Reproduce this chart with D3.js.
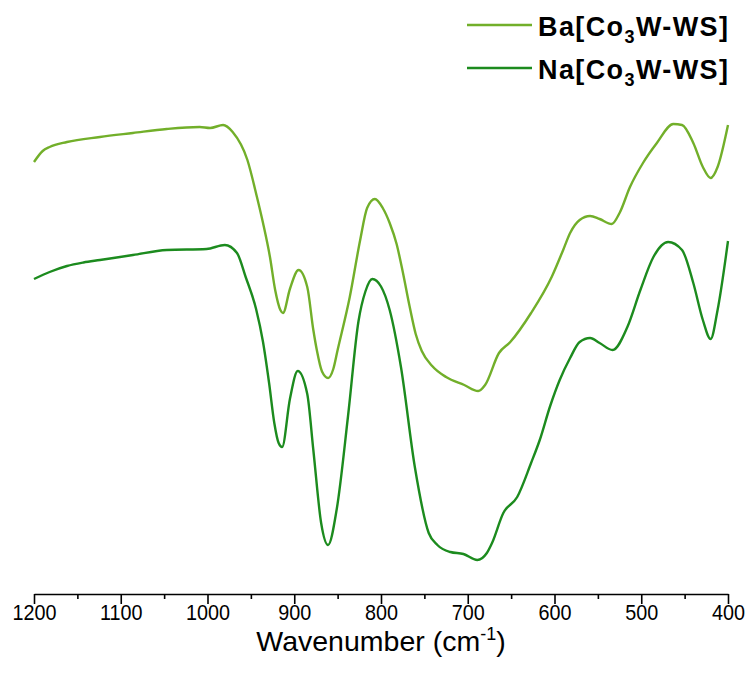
<!DOCTYPE html>
<html>
<head>
<meta charset="utf-8">
<script src="https://cdn.jsdelivr.net/npm/d3@7"></script>
<style>
  html, body { margin: 0; padding: 0; background: #fff; }
  svg { display: block; }
</style>
</head>
<body>
<svg id="chart" width="749" height="685"></svg>
<script>
// ---- data (wavenumber in cm^-1, transmittance in arbitrary units, offset as drawn) ----
const baWavenumber = [1200,1190,1182,1162,1124,1086,1047,1009,997,982,971,954,943,936,928,922,916,913,905,895,885,878,874,868,861,855,850,836,824,816,807,798,790,782,775,767,760,753,741,725,704,688,680,664,651,627,603,590,582,571,559,548,534,525,513,498,482,463,453,440,429,420,412,400];
const baValue      = [86.4,88.6,89.4,90.4,91.4,92.2,93.0,93.4,93.2,93.8,92.4,86.8,79.4,74.2,67.4,60.8,56.8,56.2,61.0,64.8,61.4,52.8,48.8,44.5,43.2,45.0,48.8,59.4,70.8,77.2,79.0,77.2,74.2,70.0,64.5,57.5,52.0,48.6,45.6,43.4,41.8,40.6,41.8,48.2,50.4,56.2,63.5,68.8,72.2,74.8,75.6,75.0,74.0,76.2,81.4,86.2,90.2,94.0,93.8,90.2,85.4,83.2,85.4,93.8];

const naWavenumber = [1200,1182,1162,1143,1124,1086,1047,1001,980,966,956,944,936,929,923,918,914,905,896,885,878,869,861,851,838,826,818,810,800,790,777,761,745,735,720,705,689,678,672,659,643,627,617,605,594,582,571,559,548,533,516,501,486,469,453,440,429,420,412,400];
const naValue      = [63.0,64.4,65.6,66.3,66.8,67.8,68.8,69.0,69.8,68.2,63.4,57.0,50.4,42.2,34.2,30.2,29.4,39.0,44.6,40.0,28.8,14.2,9.8,17.0,35.6,54.5,60.5,63.0,61.5,56.8,45.4,25.4,12.2,9.8,8.4,8.0,6.8,8.2,10.2,16.2,19.4,26.2,30.8,37.6,42.8,47.2,50.4,51.2,50.2,48.8,53.4,60.8,67.4,70.4,68.8,62.2,54.8,51.0,56.8,70.6];

const seriesNames  = ["Ba", "Na"];
const seriesColors = ["#72AF2A", "#1C8B1E"];
const xTicks = [1200,1100,1000,900,800,700,600,500,400];
const xMinorTicks = [1150,1050,950,850,750,650,550,450];
const xLabel = "Wavenumber (cm";

// ---- layout ----
const svg = d3.select("#chart");
const x = d3.scaleLinear().domain([1200, 400]).range([34, 728]);
const y = d3.scaleLinear().domain([0, 100]).range([594, 94]);

const series = [
  { name: seriesNames[0], color: seriesColors[0], data: baWavenumber.map((w, i) => ({ w, v: baValue[i] })) },
  { name: seriesNames[1], color: seriesColors[1], data: naWavenumber.map((w, i) => ({ w, v: naValue[i] })) }
];

const line = d3.line()
  .x(d => x(d.w))
  .y(d => y(d.v))
  .curve(d3.curveMonotoneX);

svg.append("g").selectAll("path")
  .data(series)
  .join("path")
  .attr("d", d => line(d.data))
  .attr("fill", "none")
  .attr("stroke", d => d.color)
  .attr("stroke-width", 2.4)
  .attr("stroke-linejoin", "round");

// ---- x axis ----
const axisG = svg.append("g").attr("transform", `translate(0,${594})`);
axisG.call(d3.axisBottom(x).tickValues(xTicks).tickSize(10).tickSizeOuter(0).tickPadding(0).tickFormat(d3.format("d")));
axisG.append("g").call(d3.axisBottom(x).tickValues(xMinorTicks).tickSize(5).tickFormat(""))
  .call(g => g.select(".domain").remove());
axisG.selectAll(".domain").attr("stroke", "#000").attr("stroke-width", 1.6);
axisG.selectAll(".tick line").attr("stroke", "#000").attr("stroke-width", 1.6);
axisG.selectAll(".tick text")
  .attr("font-family", "Liberation Sans, Arial, sans-serif")
  .attr("font-size", 22)
  .attr("fill", "#000")
  .attr("y", 26)
  .attr("dy", 0)
  .attr("transform", "scale(0.9,1)");

const title = svg.append("text")
  .attr("x", 381).attr("y", 651)
  .attr("text-anchor", "middle")
  .attr("font-family", "Liberation Sans, Arial, sans-serif")
  .attr("font-size", 28.5)
  .attr("fill", "#000");
title.append("tspan").text(xLabel);
title.append("tspan").attr("dy", -11).attr("font-size", 18).text("-1");
title.append("tspan").attr("dy", 11).text(")");

// ---- legend ----
const legendY = [25, 68];
const legend = svg.append("g");
series.forEach((s, i) => {
  legend.append("line")
    .attr("x1", 467).attr("x2", 532)
    .attr("y1", legendY[i]).attr("y2", legendY[i])
    .attr("stroke", s.color).attr("stroke-width", 2.4);
  const t = legend.append("text")
    .attr("x", 538).attr("y", legendY[i] + 11)
    .attr("font-family", "Liberation Sans, Arial, sans-serif")
    .attr("font-weight", "bold")
    .attr("font-size", 27)
    .attr("letter-spacing", 1.4)
    .attr("fill", "#000");
  t.append("tspan").text(s.name + "[Co");
  t.append("tspan").attr("dy", 7).attr("font-size", 18).text("3");
  t.append("tspan").attr("dy", -7).text("W-WS]");
});
</script>
</body>
</html>
